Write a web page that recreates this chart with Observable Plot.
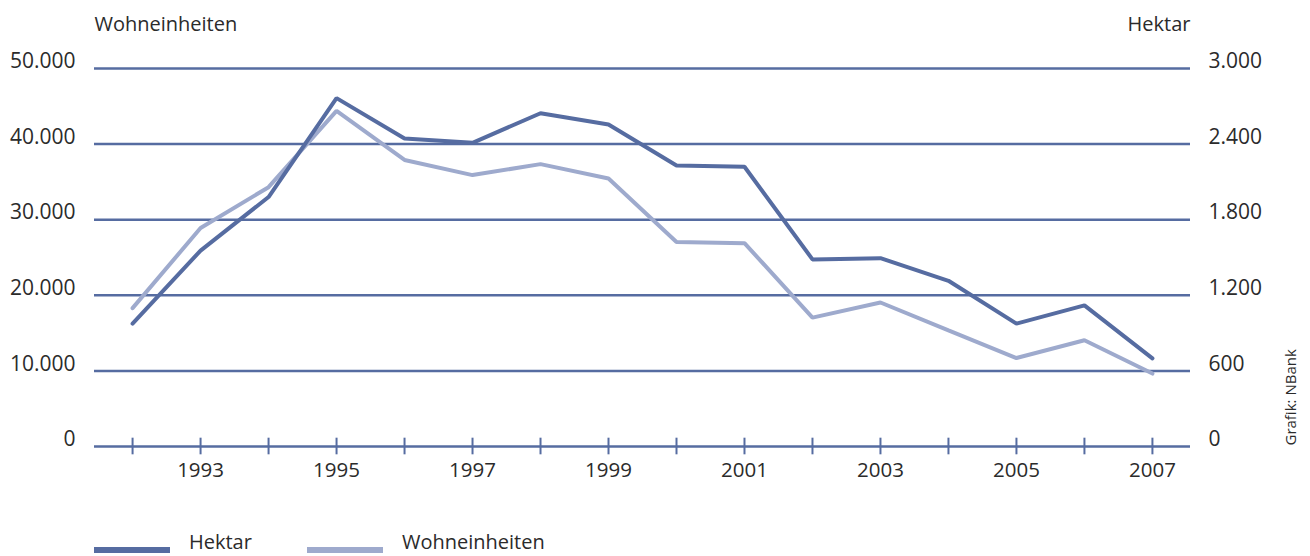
<!DOCTYPE html>
<html>
<head>
<meta charset="utf-8">
<script src="https://cdn.jsdelivr.net/npm/d3@7"></script>
<script src="https://cdn.jsdelivr.net/npm/@observablehq/plot@0.6"></script>
<style>
  html, body { margin: 0; padding: 0; background: #fff; }
  #wrap { position: relative; width: 1310px; height: 556px; overflow: hidden; font-family: "Open Sans", sans-serif; color: #2b2b2b; }
  .lg-sw { position: absolute; height: 6px; width: 76px; }
  .lg-tx { position: absolute; font-size: 20px; line-height: 22px; color: #2b2b2b; white-space: nowrap; }
</style>
</head>
<body>
<div id="wrap"></div>
<script>
// ---- data ----
const years = [1992, 1993, 1994, 1995, 1996, 1997, 1998, 1999, 2000, 2001, 2002, 2003, 2004, 2005, 2006, 2007];
const hektar = [975, 1555, 1980, 2765, 2445, 2410, 2645, 2555, 2230, 2220, 1485, 1495, 1315, 975, 1120, 700];
const wohneinheiten = [18300, 28900, 34300, 44400, 37900, 35900, 37350, 35450, 27050, 26900, 17050, 19050, 15350, 11700, 14050, 9650];
const leftTicks = [0, 10000, 20000, 30000, 40000, 50000];
const rightTicks = [0, 600, 1200, 1800, 2400, 3000];
const yearLabels = [1993, 1995, 1997, 1999, 2001, 2003, 2005, 2007];
const seriesNames = ["Hektar", "Wohneinheiten"];
const seriesColors = ["#566ca1", "#9eaacd"];
const leftTitle = "Wohneinheiten";
const rightTitle = "Hektar";
const credit = "Grafik: NBank";

// ---- helpers ----
const leftMax = leftTicks[leftTicks.length - 1];
const rightMax = rightTicks[rightTicks.length - 1];
const toLeft = h => h * leftMax / rightMax;
const de = d3.formatLocale({decimal: ",", thousands: ".", grouping: [3], currency: ["", " €"]});
const fmt = de.format(",d");

const rows = years.map((y, i) => ({year: y, hektar: hektar[i], we: wohneinheiten[i]}));
const gridColor = "#566ca1";
const tick = leftMax * 0.022;
const textColor = "#2b2b2b";

const chart = Plot.plot({
  width: 1310,
  height: 510,
  marginLeft: 94,
  marginRight: 120,
  marginTop: 68,
  marginBottom: 64,
  style: {fontFamily: "'Open Sans', sans-serif", color: textColor, background: "#fff"},
  x: {domain: [years[0] - 0.56, years[years.length - 1] + 0.56], axis: null},
  y: {domain: [0, leftMax], axis: null},
  marks: [
    Plot.ruleY(leftTicks, {stroke: gridColor, strokeWidth: 2.5}),
    Plot.ruleX(years, {x: d => d, y1: -tick, y2: tick, stroke: gridColor, strokeWidth: 2}),
    Plot.line(rows, {x: "year", y: "we", stroke: seriesColors[1], strokeWidth: 4, strokeLinejoin: "miter"}),
    Plot.line(rows, {x: "year", y: d => toLeft(d.hektar), stroke: seriesColors[0], strokeWidth: 4, strokeLinejoin: "miter"}),
    Plot.axisY(leftTicks, {anchor: "left", tickSize: 0, tickPadding: 19, tickFormat: fmt, fontSize: 21, dy: -7, label: null}),
    Plot.axisY(rightTicks.map(toLeft), {anchor: "right", tickSize: 0, tickPadding: 18, tickFormat: d => fmt(Math.round(d * rightMax / leftMax)), fontSize: 21, dy: -7, label: null}),
    Plot.axisX(yearLabels, {anchor: "bottom", tickSize: 0, tickPadding: 16, tickFormat: d => String(d), fontSize: 20.5, label: null}),
    Plot.text([leftTitle], {frameAnchor: "top-left", textAnchor: "start", lineAnchor: "bottom", dy: -38, fontSize: 20, fill: textColor}),
    Plot.text([rightTitle], {frameAnchor: "top-right", textAnchor: "end", lineAnchor: "bottom", dy: -38, fontSize: 20, fill: textColor}),
    Plot.text([credit], {frameAnchor: "bottom-right", rotate: -90, textAnchor: "start", lineAnchor: "middle", dx: 101, dy: -1, fontSize: 15, fill: textColor})
  ]
});

const wrap = document.getElementById("wrap");
wrap.appendChild(chart);

// legend
const legendPos = [{sw: 94, tx: 189}, {sw: 307, tx: 402}];
seriesNames.forEach((name, i) => {
  const sw = document.createElement("div");
  sw.className = "lg-sw";
  sw.style.left = legendPos[i].sw + "px";
  sw.style.top = "547px";
  sw.style.background = seriesColors[i];
  wrap.appendChild(sw);
  const tx = document.createElement("div");
  tx.className = "lg-tx";
  tx.style.left = legendPos[i].tx + "px";
  tx.style.top = "531px";
  tx.textContent = name;
  wrap.appendChild(tx);
});
</script>
</body>
</html>
